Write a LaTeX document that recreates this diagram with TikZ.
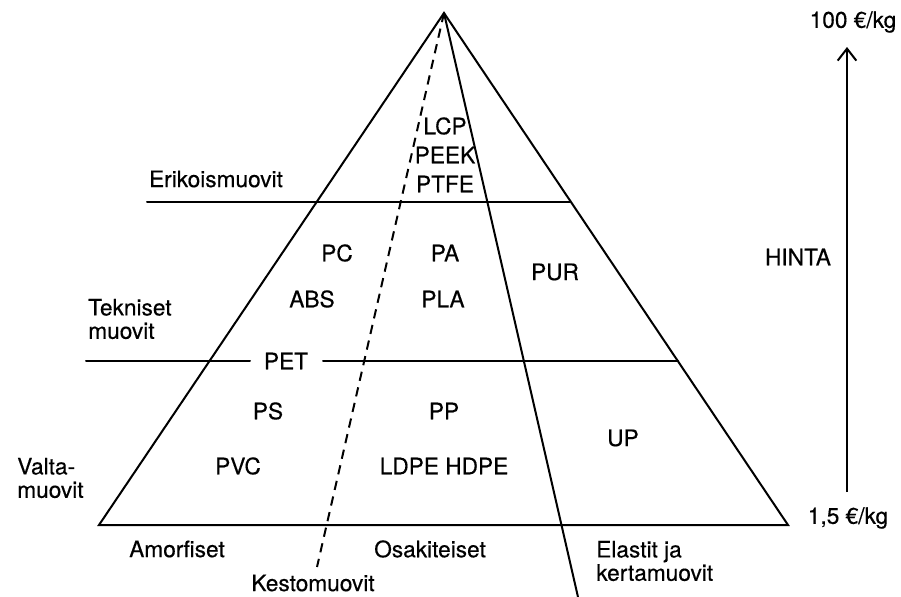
\documentclass[tikz,border=0pt]{standalone}
\usepackage{fontspec}
\setmainfont[FakeBold=0.4]{TeX Gyre Heros}
\usetikzlibrary{arrows.meta}
\begin{document}
\begin{tikzpicture}[x=0.75pt,y=-0.75pt,
  lbl/.style={font=\fontsize{17}{17.5}\selectfont,inner sep=0pt},
  lleft/.style={lbl,anchor=west,align=left},
  ln/.style={line width=1.5pt,line cap=round},
  dsh/.style={line width=1.5pt,dash pattern=on 7pt off 5pt}]
\useasboundingbox (0,0) rectangle (901,597);
% main points
\coordinate (apex) at (444,13);
\coordinate (bl) at (99,525);
\coordinate (br) at (788,525);
\coordinate (dashend) at (317,567);
\coordinate (solidend) at (578,597);
\coordinate (e1) at (147,202);
\coordinate (e2) at (570,202);
\coordinate (t1) at (86,361);
\coordinate (t2) at (250,361);
\coordinate (t3) at (323,361);
\coordinate (t4) at (678,361);
\coordinate (a1) at (847,492);
\coordinate (a2) at (847,47);
% triangle
\draw[ln,line join=miter] (bl) -- (apex) -- (br) -- cycle;
\draw[ln] (e1) -- (e2);
\draw[ln] (t1) -- (t2);
\draw[ln] (t3) -- (t4);
\draw[dsh] (apex) -- (dashend);
\draw[ln] (apex) -- (solidend);
\draw[line width=1.5pt,-{Straight Barb[length=9pt,width=14pt,line width=1.5pt]}] (a1) -- (a2);
% labels
\node[lbl] (lcp) at (445,126) {LCP};
\node[lbl] (peek) at (445,155) {PEEK};
\node[lbl] (ptfe) at (445,184) {PTFE};
\node[lbl] (eriko) at (216,179) {Erikoismuovit};
\node[lbl] (pc) at (337,253) {PC};
\node[lbl] (pa) at (445,253) {PA};
\node[lbl] (pur) at (555,272) {PUR};
\node[lbl] (hinta) at (798,257) {HINTA};
\node[lbl] (abs) at (312,299) {ABS};
\node[lbl] (pla) at (443,299) {PLA};
\node[lleft] (tek) at (88,319) {Tekniset\\muovit};
\node[lbl] (pet) at (286,361) {PET};
\node[lbl] (ps) at (268,411) {PS};
\node[lbl] (pp) at (444,411) {PP};
\node[lbl] (up) at (623,438) {UP};
\node[lbl] (pvc) at (238,466) {PVC};
\node[lbl] (ldpe) at (444,466) {LDPE HDPE};
\node[lleft] (valta) at (17,478) {Valta-\\muovit};
\node[lbl] (amorf) at (177,549) {Amorfiset};
\node[lbl] (osak) at (430,549) {Osakiteiset};
\node[lleft] (elast) at (596,561) {Elastit ja\\kertamuovit};
\node[lbl] (kesto) at (313,583) {Kestomuovit};
\node[lbl] (hi) at (853,22) {100 €/kg};
\node[lbl] (lo) at (848,518) {1,5 €/kg};
\end{tikzpicture}
\end{document}
